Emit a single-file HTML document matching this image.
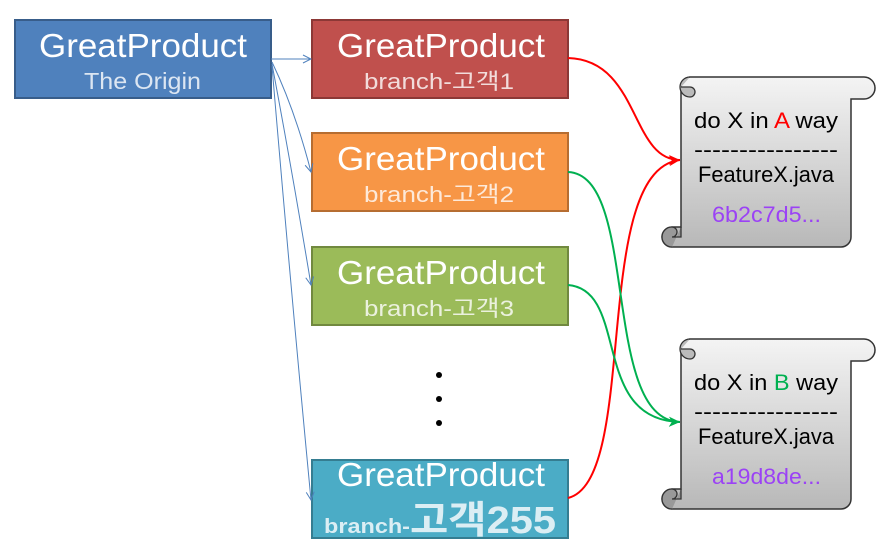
<!DOCTYPE html>
<html><head><meta charset="utf-8"><style>
body{margin:0;background:#fff;width:884px;height:555px;overflow:hidden;font-family:"Liberation Sans","Noto Sans CJK KR",sans-serif}
</style></head><body>
<svg width="884" height="555" xmlns="http://www.w3.org/2000/svg" font-family="Liberation Sans, Noto Sans CJK KR, sans-serif">
<defs>
<linearGradient id="g" x1="0" y1="0" x2="0" y2="1"><stop offset="0" stop-color="#f4f4f4"/><stop offset="1" stop-color="#b8b8b8"/></linearGradient>
<marker id="ab" markerWidth="10" markerHeight="10" refX="9" refY="5" orient="auto" markerUnits="userSpaceOnUse"><path d="M1,1 L9,5 L1,9" fill="none" stroke="#4f81bd" stroke-width="1"/></marker>
<marker id="ar" markerWidth="14" markerHeight="12" refX="12" refY="6" orient="auto" markerUnits="userSpaceOnUse"><path d="M1,1 L12,6 L1,11 L4,6z" fill="#f00"/></marker>
<marker id="ag" markerWidth="14" markerHeight="12" refX="12" refY="6" orient="auto" markerUnits="userSpaceOnUse"><path d="M1,1 L12,6 L1,11 L4,6z" fill="#00b050"/></marker>
</defs>
<rect x="15" y="20" width="256" height="78" fill="#4f81bd" stroke="#385d8a" stroke-width="2"/>
<text x="39" y="57" font-size="33" fill="#fff" textLength="208" lengthAdjust="spacingAndGlyphs">GreatProduct</text>
<text x="84" y="89" font-size="23" fill="#dce6f2" textLength="117" lengthAdjust="spacingAndGlyphs">The Origin</text>

<rect x="312" y="20" width="256" height="78" fill="#c0504d" stroke="#8c3836" stroke-width="2"/>
<text x="337" y="57" font-size="33" fill="#fff" textLength="208" lengthAdjust="spacingAndGlyphs">GreatProduct</text>
<text x="364" y="89" font-size="22" fill="#f2dcdb" textLength="150" lengthAdjust="spacingAndGlyphs">branch-고객1</text>

<rect x="312" y="133" width="256" height="78" fill="#f79646" stroke="#b66d31" stroke-width="2"/>
<text x="337" y="170" font-size="33" fill="#fff" textLength="208" lengthAdjust="spacingAndGlyphs">GreatProduct</text>
<text x="364" y="202" font-size="22" fill="#fde9d9" textLength="150" lengthAdjust="spacingAndGlyphs">branch-고객2</text>

<rect x="312" y="247" width="256" height="78" fill="#9bbb59" stroke="#71893f" stroke-width="2"/>
<text x="337" y="284" font-size="33" fill="#fff" textLength="208" lengthAdjust="spacingAndGlyphs">GreatProduct</text>
<text x="364" y="316" font-size="22" fill="#ebf1de" textLength="150" lengthAdjust="spacingAndGlyphs">branch-고객3</text>

<rect x="312" y="460" width="256" height="78" fill="#4bacc6" stroke="#357d91" stroke-width="2"/>
<text x="337" y="486" font-size="33" fill="#fff" textLength="208" lengthAdjust="spacingAndGlyphs">GreatProduct</text>
<text x="324" y="533" font-size="20" font-weight="bold" fill="#dbeef4" textLength="86" lengthAdjust="spacingAndGlyphs">branch-</text>
<text x="410" y="533" font-size="38" font-weight="bold" fill="#dbeef4" textLength="146" lengthAdjust="spacingAndGlyphs">고객255</text>

<circle cx="439" cy="375" r="3" fill="#000"/><circle cx="439" cy="399" r="3" fill="#000"/><circle cx="439" cy="423" r="3" fill="#000"/>

<g stroke="#4f81bd" stroke-width="1" fill="none" marker-end="url(#ab)">
<line x1="271" y1="59" x2="311" y2="59"/>
<path d="M272,62 Q295,110 311,172"/>
<path d="M272,64 Q292,170 311,285"/>
<path d="M272,66 Q290,280 311,500"/>
</g>
<path d="M568,58 C640,60 630,160 680,160" stroke="#f00" stroke-width="2" fill="none" marker-end="url(#ar)"/>
<path d="M568,498 C640,480 590,170 680,160" stroke="#f00" stroke-width="2" fill="none" marker-end="url(#ar)"/>
<path d="M568,172 C640,175 600,420 680,422" stroke="#00b050" stroke-width="2" fill="none" marker-end="url(#ag)"/>
<path d="M568,285 C630,290 590,420 680,422" stroke="#00b050" stroke-width="2" fill="none" marker-end="url(#ag)"/>

<g id="s1">
<path d="M690,77 H864 a11,11 0 0 1 0,22 H851 V237 a10,10 0 0 1 -10,10 H672 a10,10 0 0 1 0,-20 H681 V87 a10,10 0 0 1 9,-10z" fill="url(#g)" stroke="#333" stroke-width="1.5"/>
<path d="M690,77 a10,10 0 0 0 0,20 a5,5 0 0 0 0,-10 h-9" fill="#bbb" stroke="#333" stroke-width="1.3"/>
<path d="M672,247 a10,10 0 0 1 0,-20 a5,5 0 0 1 0,10 h9 v-10" fill="#999" stroke="#333" stroke-width="1.3"/>
</g>
<use href="#s1" y="262"/>
<g font-size="22" lengthAdjust="spacingAndGlyphs">
<text x="694" y="128" textLength="144" lengthAdjust="spacingAndGlyphs">do X in <tspan fill="#f00">A</tspan> way</text>
<text x="694" y="157" textLength="144" lengthAdjust="spacingAndGlyphs">----------------</text>
<text x="698" y="182" textLength="136" lengthAdjust="spacingAndGlyphs">FeatureX.java</text>
<text x="712" y="222" fill="#9b42f5" textLength="109" lengthAdjust="spacingAndGlyphs">6b2c7d5...</text>
<text x="694" y="390" textLength="144" lengthAdjust="spacingAndGlyphs">do X in <tspan fill="#00b050">B</tspan> way</text>
<text x="694" y="419" textLength="144" lengthAdjust="spacingAndGlyphs">----------------</text>
<text x="698" y="444" textLength="136" lengthAdjust="spacingAndGlyphs">FeatureX.java</text>
<text x="712" y="484" fill="#9b42f5" textLength="109" lengthAdjust="spacingAndGlyphs">a19d8de...</text>
</g>
</svg>
</body></html>
